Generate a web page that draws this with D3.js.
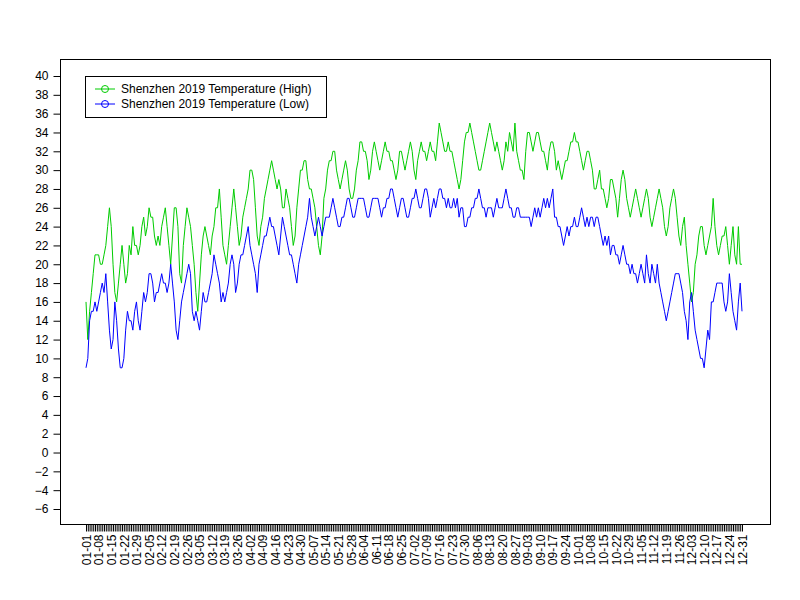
<!DOCTYPE html>
<html>
<head>
<meta charset="utf-8">
<script src="https://cdn.jsdelivr.net/npm/d3@7"></script>
<style>
  body { margin: 0; background: #fff; }
  text { font-family: "Liberation Sans", Arial, sans-serif; font-size: 12px; }
</style>
</head>
<body>
<svg id="chart" width="800" height="600"></svg>
<script>
// daily highs, 2019-01-01 .. 2019-12-31
const highs = [
  16,12,15,17,19,21,21, 21,20,20,21,22,24,26, 24,20,17,16,18,20,22, 20,18,19,22,21,24,22,
  22,21,22,24,25,23,24, 26,25,25,23,22,23,22, 24,25,26,24,22,20,23, 26,26,24,19,18,22,24,
  26,25,24,22,20,17,15, 18,21,23,24,23,22,21, 23,24,26,26,28,25,22, 21,20,22,24,26,28,26,
  24,22,23,25,26,27,28, 30,30,29,26,23,22,24, 25,27,28,29,30,31,30, 29,28,29,28,26,26,28,
  27,26,24,22,23,26,28, 30,30,31,31,29,28,28, 27,26,24,22,21,23,27, 28,30,31,31,32,32,30,
  29,28,29,30,31,30,28, 27,27,28,30,31,33,33, 32,32,31,29,30,32,33, 32,31,30,31,32,33,32,
  32,31,31,30,29,30,32, 32,31,30,31,32,33,32, 30,29,31,32,33,32,32, 31,32,33,32,32,31,33,
  35,34,33,32,32,33,32, 32,31,30,29,28,29,31, 33,34,34,35,34,33,32, 31,30,30,31,32,33,34,
  35,34,33,32,33,32,31, 30,31,33,32,34,33,32, 35,32,31,30,30,29,32, 34,34,33,32,33,34,34,
  33,32,32,31,30,32,33, 33,32,30,31,30,29,30, 31,31,32,33,33,34,33, 33,32,31,30,31,32,32,
  31,30,28,28,29,30,28, 28,27,26,27,29,29,28, 27,25,27,29,30,29,27, 26,25,26,27,28,27,26,
  25,26,27,28,27,25,24, 25,26,27,28,27,26,24, 23,24,26,27,28,27,25, 23,22,24,25,22,20,18,
  16,17,20,21,23,24,24, 22,21,22,23,24,27,24, 22,21,22,23,23,24,22, 20,22,24,21,20,24,20,
  20
];
// daily lows
const lows = [
  9,10,14,15,15,16,15, 16,17,18,17,19,16,13, 11,12,16,14,11,9,9, 10,13,15,14,14,13,15,
  16,14,13,15,17,16,17, 19,19,18,16,17,17,18, 19,18,18,17,18,20,18, 16,13,12,14,16,17,18,
  19,20,19,15,14,15,14, 13,15,17,16,16,17,18, 19,21,20,19,18,16,17, 16,17,18,20,21,20,17,
  18,20,21,21,22,23,24, 22,21,20,19,17,20,21, 22,23,23,24,25,24,24, 23,22,21,23,25,24,23,
  22,21,21,20,19,18,20, 21,22,23,24,25,27,25, 24,23,24,25,24,23,24, 25,25,25,26,27,26,25,
  24,24,25,25,26,27,27, 26,25,25,26,27,27,27, 27,26,25,25,26,27,27, 27,27,26,25,26,26,27,
  27,28,28,27,26,25,26, 27,27,26,25,25,26,27, 27,28,27,26,26,27,28, 28,27,25,26,27,26,27,
  28,28,27,27,26,27,26, 26,27,26,27,25,26,26, 24,24,25,25,26,26,27, 27,28,27,26,26,25,26,
  26,26,25,26,27,26,26, 26,27,28,27,26,26,25, 25,26,26,25,25,25,25, 25,25,24,25,26,25,26,
  25,26,27,26,27,26,27, 28,25,25,24,24,23,22, 23,24,23,24,24,25,24, 24,25,26,25,24,25,24,
  25,25,24,25,25,24,23, 22,23,22,23,21,22,22, 21,21,20,21,22,21,20, 20,19,20,19,19,18,19,
  20,19,18,21,19,18,20, 19,18,20,18,17,16,15, 14,15,16,17,18,19,19, 19,18,17,15,14,12,16,
  17,15,13,12,11,10,10, 9,11,13,12,16,16,17, 18,18,18,18,16,15,16, 19,17,15,14,13,16,18,
  15
];
const yTicks = d3.range(-6, 41, 2);
const seriesNames = ["Shenzhen 2019 Temperature (High)", "Shenzhen 2019 Temperature (Low)"];
const seriesColors = ["#00cc00", "#0000ff"];

const days = d3.timeDay.range(new Date(2019, 0, 1), new Date(2020, 0, 1));
const fmt = d3.timeFormat("%m-%d");

const svg = d3.select("#chart");
const x = d3.scaleLinear().domain([0, days.length - 1]).range([86, 742]);
const y = d3.scaleLinear().domain([-6, 40]).range([509, 76]);

// plot frame
svg.append("rect")
  .attrs ? null : null;
svg.append("rect")
  .attr("x", 60.5).attr("y", 59.5).attr("width", 710).attr("height", 465)
  .attr("fill", "none").attr("stroke", "#000");

// y axis
const yAxis = svg.append("g").attr("transform", "translate(60.5,0)")
  .call(d3.axisLeft(y).tickValues(yTicks).tickSize(7).tickFormat(d => d < 0 ? "\u2212" + -d : d));
yAxis.select(".domain").remove();
yAxis.selectAll("text").style("font-size", "12px").attr("dx", "-2");

// x axis: tick every day, label every 7th
const xAxis = svg.append("g").attr("transform", "translate(0,524.5)")
  .call(d3.axisBottom(x).tickValues(d3.range(days.length)).tickSize(7)
    .tickFormat(i => i % 7 === 0 ? fmt(days[i]) : ""));
xAxis.select(".domain").remove();
xAxis.selectAll("text")
  .style("font-size", "12px")
  .attr("transform", "rotate(-90)")
  .attr("text-anchor", "end")
  .attr("x", -10).attr("y", 0).attr("dy", "0.35em");

// lines
const line = d3.line().x((d, i) => x(i)).y(d => y(d));
[highs, lows].forEach((vals, k) => {
  svg.append("path").datum(vals)
    .attr("d", line)
    .attr("fill", "none")
    .attr("stroke", seriesColors[k])
    .attr("stroke-width", 1);
});

// legend
const lg = svg.append("g");
lg.append("rect").attr("x", 85.5).attr("y", 76.5).attr("width", 241).attr("height", 41)
  .attr("fill", "#fff").attr("stroke", "#000");
seriesNames.forEach((name, k) => {
  const ly = 89 + k * 15;
  lg.append("line").attr("x1", 95).attr("x2", 115).attr("y1", ly).attr("y2", ly)
    .attr("stroke", seriesColors[k]);
  lg.append("circle").attr("cx", 105).attr("cy", ly).attr("r", 3.5)
    .attr("fill", "none").attr("stroke", seriesColors[k]);
  lg.append("text").attr("x", 121).attr("y", ly).attr("dy", "0.35em").text(name);
});
</script>
</body>
</html>
